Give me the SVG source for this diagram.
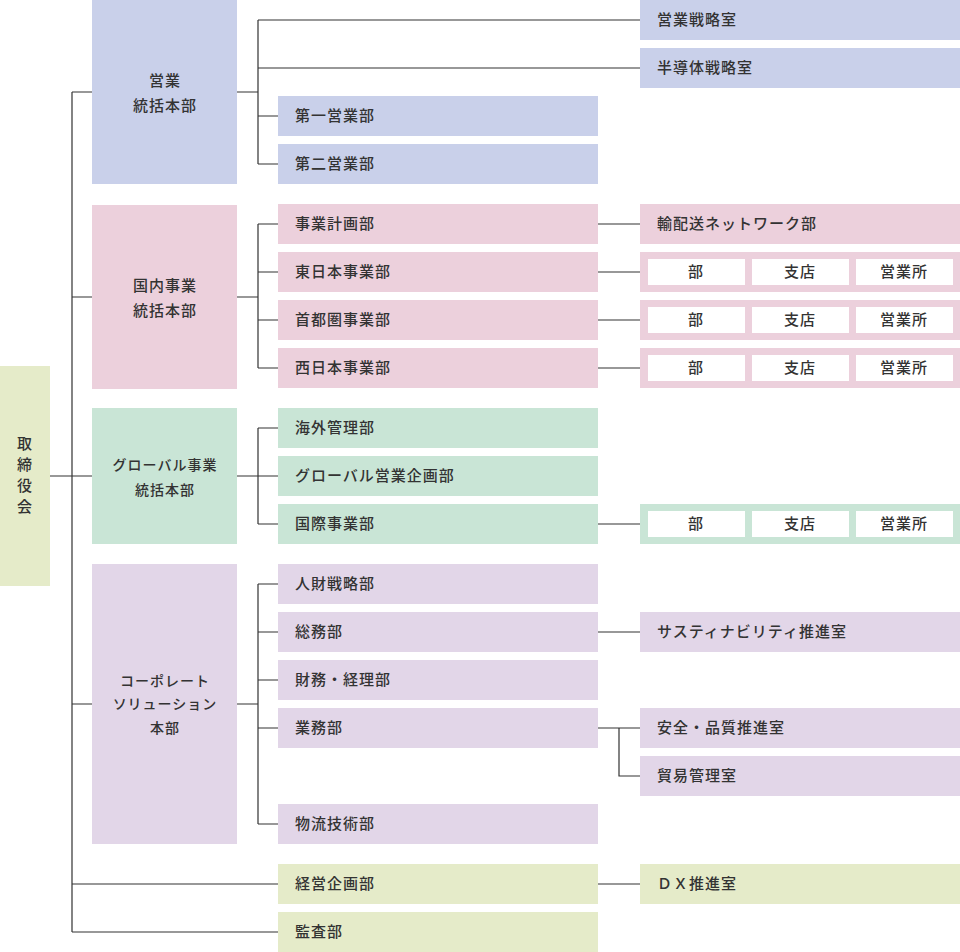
<svg xmlns="http://www.w3.org/2000/svg" width="960" height="952" viewBox="0 0 960 952">
<style>
text{font-family:"Noto Sans CJK JP","Noto Sans",sans-serif;font-size:15px;font-weight:500;fill:#333;letter-spacing:1px}
.c{text-anchor:middle}
.b{fill:#c9d0ea}.p{fill:#ecd0dc}.g{fill:#c9e5d6}.v{fill:#e2d6e8}.y{fill:#e5ebc9}.w{fill:#fff}
#connectors path{fill:none;stroke:#333;stroke-width:1.2}
</style>
<g id="connectors">
<path d="M50 476H92M72 92V932M72 92H92M72 297H92M72 704H92M72 884H278M72 932H278"/>
<path d="M237 92H258M258 20V164M258 20H640M258 68H640M258 116H278M258 164H278"/>
<path d="M237 297H258M258 224V368M258 224H278M258 272H278M258 320H278M258 368H278M598 224H640M598 272H640M598 320H640M598 368H640"/>
<path d="M237 476H278M258 428V524M258 428H278M258 524H278M598 524H640"/>
<path d="M237 704H258M258 584V824M258 584H278M258 632H278M258 680H278M258 728H278M258 824H278M598 632H640M598 728H640M619 728V776H640"/>
<path d="M598 884H640"/>
</g>
<g id="root"><rect class="y" x="0" y="366" width="50" height="220"/><text class="c" x="25" y="449">取</text><text class="c" x="25" y="470">締</text><text class="c" x="25" y="491">役</text><text class="c" x="25" y="512">会</text></g>
<g id="hq1"><rect class="b" x="92" y="0" width="145" height="184"/><text class="c" x="165" y="86">営業</text><text class="c" x="165" y="111">統括本部</text></g>
<g id="hq2"><rect class="p" x="92" y="205" width="145" height="184"/><text class="c" x="165" y="291">国内事業</text><text class="c" x="165" y="316">統括本部</text></g>
<g id="hq3"><rect class="g" x="92" y="408" width="145" height="136"/><text class="c" x="165" y="470" style="font-size:14px">グローバル事業</text><text class="c" x="165" y="495" style="font-size:14px">統括本部</text></g>
<g id="hq4"><rect class="v" x="92" y="564" width="145" height="280"/><text class="c" x="165" y="686" style="font-size:14px">コーポレート</text><text class="c" x="165" y="709" style="font-size:14px">ソリューション</text><text class="c" x="165" y="733" style="font-size:14px">本部</text></g>
<g id="l2">
<g id="n1"><rect class="b" x="278" y="96" width="320" height="40"/><text x="295" y="121">第一営業部</text></g>
<g id="n2"><rect class="b" x="278" y="144" width="320" height="40"/><text x="295" y="169">第二営業部</text></g>
<g id="n3"><rect class="p" x="278" y="204" width="320" height="40"/><text x="295" y="229">事業計画部</text></g>
<g id="n4"><rect class="p" x="278" y="252" width="320" height="40"/><text x="295" y="277">東日本事業部</text></g>
<g id="n5"><rect class="p" x="278" y="300" width="320" height="40"/><text x="295" y="325">首都圏事業部</text></g>
<g id="n6"><rect class="p" x="278" y="348" width="320" height="40"/><text x="295" y="373">西日本事業部</text></g>
<g id="n7"><rect class="g" x="278" y="408" width="320" height="40"/><text x="295" y="433">海外管理部</text></g>
<g id="n8"><rect class="g" x="278" y="456" width="320" height="40"/><text x="295" y="481">グローバル営業企画部</text></g>
<g id="n9"><rect class="g" x="278" y="504" width="320" height="40"/><text x="295" y="529">国際事業部</text></g>
<g id="n10"><rect class="v" x="278" y="564" width="320" height="40"/><text x="295" y="589">人財戦略部</text></g>
<g id="n11"><rect class="v" x="278" y="612" width="320" height="40"/><text x="295" y="637">総務部</text></g>
<g id="n12"><rect class="v" x="278" y="660" width="320" height="40"/><text x="295" y="685">財務・経理部</text></g>
<g id="n13"><rect class="v" x="278" y="708" width="320" height="40"/><text x="295" y="733">業務部</text></g>
<g id="n14"><rect class="v" x="278" y="804" width="320" height="40"/><text x="295" y="829">物流技術部</text></g>
<g id="n15"><rect class="y" x="278" y="864" width="320" height="40"/><text x="295" y="889">経営企画部</text></g>
<g id="n16"><rect class="y" x="278" y="912" width="320" height="40"/><text x="295" y="937">監査部</text></g>
</g>
<g id="l3">
<g id="r1"><rect class="b" x="640" y="0" width="320" height="40"/><text x="657" y="25">営業戦略室</text></g>
<g id="r2"><rect class="b" x="640" y="48" width="320" height="40"/><text x="657" y="73">半導体戦略室</text></g>
<g id="r3"><rect class="p" x="640" y="204" width="320" height="40"/><text x="657" y="229">輸配送ネットワーク部</text></g>
<g id="r4"><rect class="p" x="640" y="252" width="320" height="40"/><rect class="w" x="648" y="259" width="97" height="26"/><rect class="w" x="752" y="259" width="97" height="26"/><rect class="w" x="856" y="259" width="97" height="26"/><text class="c" x="696" y="277">部</text><text class="c" x="800" y="277">支店</text><text class="c" x="904" y="277">営業所</text></g>
<g id="r5"><rect class="p" x="640" y="300" width="320" height="40"/><rect class="w" x="648" y="307" width="97" height="26"/><rect class="w" x="752" y="307" width="97" height="26"/><rect class="w" x="856" y="307" width="97" height="26"/><text class="c" x="696" y="325">部</text><text class="c" x="800" y="325">支店</text><text class="c" x="904" y="325">営業所</text></g>
<g id="r6"><rect class="p" x="640" y="348" width="320" height="40"/><rect class="w" x="648" y="355" width="97" height="26"/><rect class="w" x="752" y="355" width="97" height="26"/><rect class="w" x="856" y="355" width="97" height="26"/><text class="c" x="696" y="373">部</text><text class="c" x="800" y="373">支店</text><text class="c" x="904" y="373">営業所</text></g>
<g id="r7"><rect class="g" x="640" y="504" width="320" height="40"/><rect class="w" x="648" y="511" width="97" height="26"/><rect class="w" x="752" y="511" width="97" height="26"/><rect class="w" x="856" y="511" width="97" height="26"/><text class="c" x="696" y="529">部</text><text class="c" x="800" y="529">支店</text><text class="c" x="904" y="529">営業所</text></g>
<g id="r8"><rect class="v" x="640" y="612" width="320" height="40"/><text x="657" y="637">サスティナビリティ推進室</text></g>
<g id="r9"><rect class="v" x="640" y="708" width="320" height="40"/><text x="657" y="733">安全・品質推進室</text></g>
<g id="r10"><rect class="v" x="640" y="756" width="320" height="40"/><text x="657" y="781">貿易管理室</text></g>
<g id="r11"><rect class="y" x="640" y="864" width="320" height="40"/><text x="657" y="889">ＤＸ推進室</text></g>
</g>
</svg>
